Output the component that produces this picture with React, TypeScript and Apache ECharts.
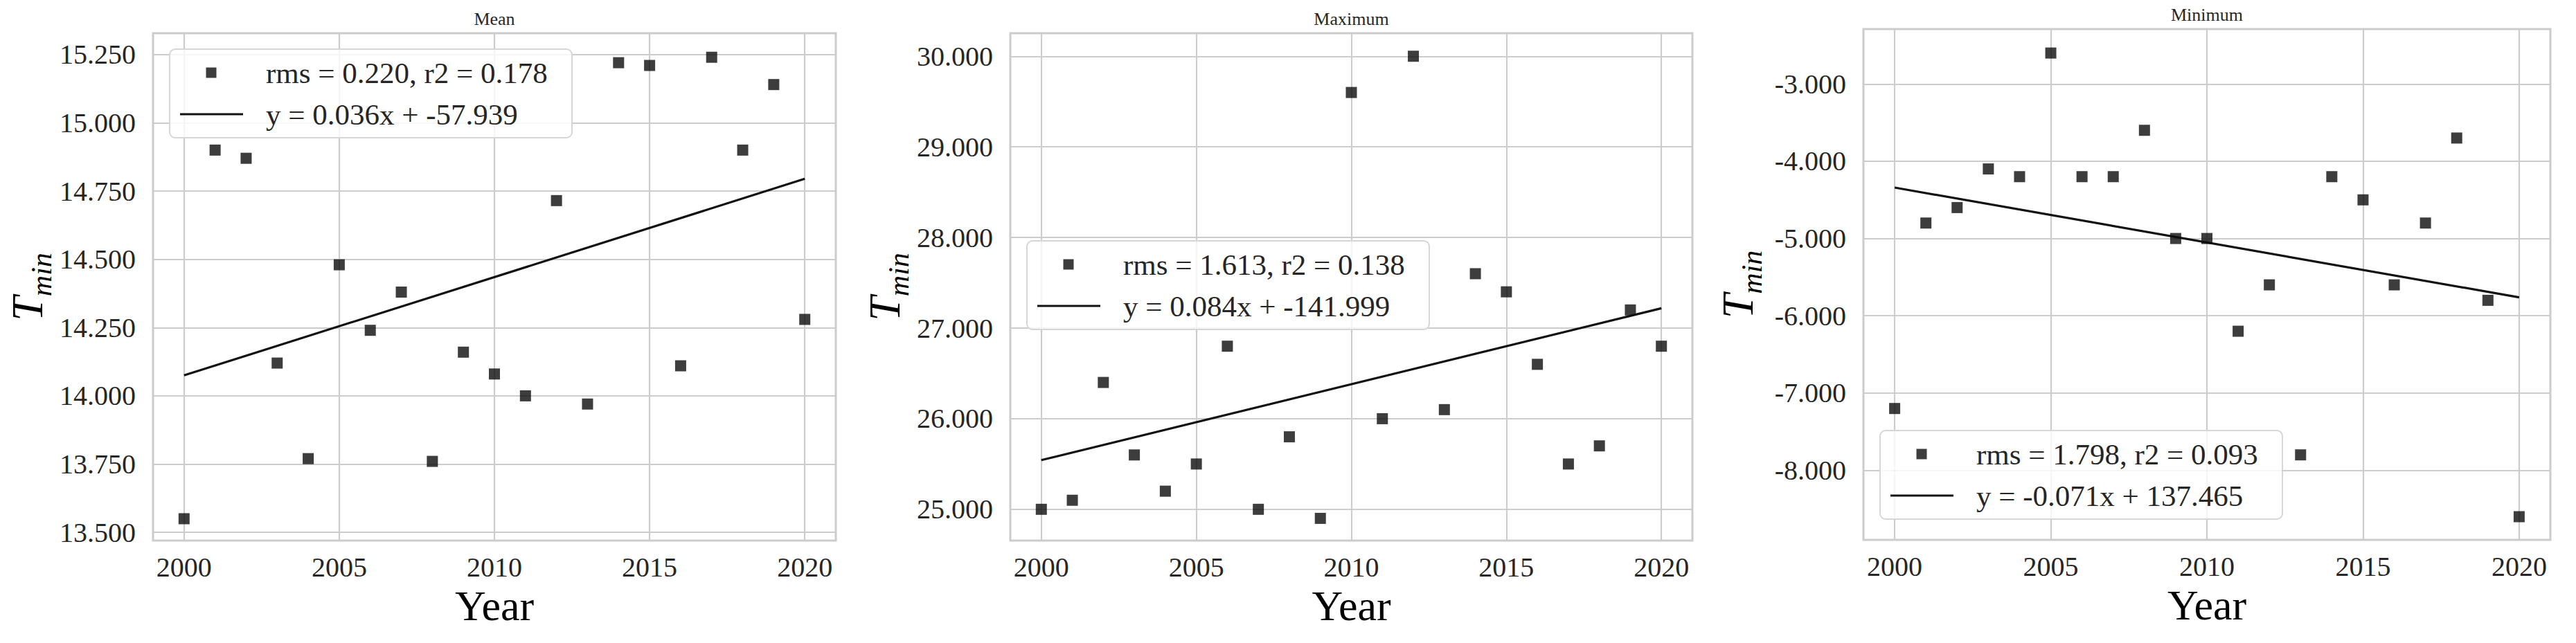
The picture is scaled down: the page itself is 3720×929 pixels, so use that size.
import React, { useEffect, useRef } from "react";
import * as echarts from "echarts";

// ---------- data ----------
const years = [2000, 2001, 2002, 2003, 2004, 2005, 2006, 2007, 2008, 2009, 2010, 2011, 2012, 2013, 2014, 2015, 2016, 2017, 2018, 2019, 2020];
const meanValues = [13.55, 14.9, 14.87, 14.12, 13.77, 14.48, 14.24, 14.38, 13.76, 14.16, 14.08, 14.0, 14.715, 13.97, 15.22, 15.21, 14.11, 15.24, 14.9, 15.14, 14.28];
const maxValues = [25.0, 25.1, 26.4, 25.6, 25.2, 25.5, 26.8, 25.0, 25.8, 24.9, 29.6, 26.0, 30.0, 26.1, 27.6, 27.4, 26.6, 25.5, 25.7, 27.2, 26.8];
const minValues = [-7.2, -4.8, -4.6, -4.1, -4.2, -2.6, -4.2, -4.2, -3.6, -5.0, -5.0, -6.2, -5.6, -7.8, -4.2, -4.5, -5.6, -4.8, -3.7, -5.8, -8.6];

const fitYears = [2000, 2020];
const meanFit = [14.075, 14.795];
const maxFit = [25.543, 27.219];
const minFit = [-4.341, -5.762];

const xTicks = [2000, 2005, 2010, 2015, 2020];
const meanTicks = [13.5, 13.75, 14.0, 14.25, 14.5, 14.75, 15.0, 15.25];
const maxTicks = [25, 26, 27, 28, 29, 30];
const minTicks = [-8, -7, -6, -5, -4, -3];

const titles = ["Mean", "Maximum", "Minimum"];
const statLabels = ["rms = 0.220, r2 = 0.178", "rms = 1.613, r2 = 0.138", "rms = 1.798, r2 = 0.093"];
const fitLabels = ["y = 0.036x + -57.939", "y = 0.084x + -141.999", "y = -0.071x + 137.465"];

// ---------- layout / style ----------
const FONT = "'Liberation Serif', 'Times New Roman', serif";
const TICK_COLOR = "#262626";
const GRID_COLOR = "#cccccc";
const MARK_COLOR = "#0d0d0d";

const panels = [
  { values: meanValues, fit: meanFit, ticks: meanTicks, yMin: 13.47, yMax: 15.328, grid: { left: 221, top: 48, width: 986, height: 733 }, legend: { left: 245, top: 71 } },
  { values: maxValues, fit: maxFit, ticks: maxTicks, yMin: 24.655, yMax: 30.254, grid: { left: 1459, top: 48, width: 985, height: 733 }, legend: { left: 1483, top: 348 } },
  { values: minValues, fit: minFit, ticks: minTicks, yMin: -8.9, yMax: -2.29, grid: { left: 2691, top: 42, width: 992, height: 738 }, legend: { left: 2715, top: 622 } },
];

const SQUARE_ICON = "path://M0,0L0,0M37.5,0L52.5,0L52.5,15L37.5,15ZM119,15L119,15";
const LINE_ICON = "path://M0,0L0,0M0,6L91,6L91,9L0,9ZM119,15L119,15";

export default function App() {
  const ref = useRef<HTMLDivElement>(null);

  useEffect(() => {
    if (!ref.current) return;
    const chart = echarts.init(ref.current, null, { renderer: "svg" });

    const grid: any[] = [];
    const xAxis: any[] = [];
    const yAxis: any[] = [];
    const series: any[] = [];
    const legend: any[] = [];
    const graphic: any[] = [];

    panels.forEach((p, i) => {
      grid.push({
        ...p.grid,
        show: true,
        borderColor: GRID_COLOR,
        borderWidth: 3,
        backgroundColor: "transparent",
        containLabel: false,
      });
      xAxis.push({
        type: "value",
        gridIndex: i,
        min: 1999,
        max: 2021,
        axisLine: { show: false },
        axisTick: { show: false, customValues: xTicks },
        axisLabel: {
          customValues: xTicks,
          formatter: (v: number) => String(v),
          fontFamily: FONT,
          fontSize: 40,
          color: TICK_COLOR,
          margin: 18,
        },
        splitLine: { show: true, lineStyle: { color: GRID_COLOR, width: 2.2 } },
        name: "Year",
        nameLocation: "middle",
        nameGap: 62,
        nameTextStyle: { fontFamily: FONT, fontSize: 62, color: "#000" },
      });
      yAxis.push({
        type: "value",
        gridIndex: i,
        min: p.yMin,
        max: p.yMax,
        axisLine: { show: false },
        axisTick: { show: false, customValues: p.ticks },
        axisLabel: {
          customValues: p.ticks,
          formatter: (v: number) => v.toFixed(3),
          fontFamily: FONT,
          fontSize: 40,
          color: TICK_COLOR,
          margin: 25,
        },
        splitLine: { show: true, lineStyle: { color: GRID_COLOR, width: 2.2 } },
        name: "{t|T}{s|min}",
        nameLocation: "middle",
        nameGap: 140,
        nameTextStyle: {
          rich: {
            t: { fontFamily: FONT, fontStyle: "italic", fontSize: 64, lineHeight: 58, color: "#000", verticalAlign: "bottom", padding: [0, 0, 10, 0] },
            s: { fontFamily: FONT, fontStyle: "italic", fontSize: 42, lineHeight: 40, color: "#000", verticalAlign: "bottom" },
          },
        },
      });
      series.push({
        type: "scatter",
        name: statLabels[i],
        xAxisIndex: i,
        yAxisIndex: i,
        symbol: "rect",
        symbolSize: 16,
        itemStyle: { color: MARK_COLOR },
        data: years.map((y, k) => [y, p.values[k]]),
        z: 3,
      });
      series.push({
        type: "line",
        name: fitLabels[i],
        xAxisIndex: i,
        yAxisIndex: i,
        symbol: "none",
        color: "#111111",
        lineStyle: { color: "#111111", width: 3.2 },
        data: fitYears.map((y, k) => [y, p.fit[k]]),
        z: 2,
      });
      legend.push({
        left: p.legend.left,
        top: p.legend.top,
        orient: "vertical",
        itemWidth: 119,
        itemHeight: 15,
        itemGap: 16,
        padding: [12, 17, 12, 15],
        backgroundColor: "rgba(255,255,255,0.8)",
        borderColor: "#d6d6d6",
        borderWidth: 2,
        borderRadius: 8,
        selectedMode: false,
        textStyle: { fontFamily: FONT, fontSize: 43, color: TICK_COLOR, lineHeight: 44, width: 425 },
        data: [
          { name: statLabels[i], icon: SQUARE_ICON },
          { name: fitLabels[i], icon: LINE_ICON },
        ],
        z: 10,
      });
      graphic.push({
        type: "text",
        x: p.grid.left + p.grid.width / 2,
        y: p.grid.top - 21,
        style: {
          text: titles[i],
          fontFamily: FONT,
          fontSize: 26,
          fill: TICK_COLOR,
          align: "center",
          verticalAlign: "middle",
        },
      });
    });

    chart.setOption({
      animation: false,
      backgroundColor: "#ffffff",
      grid,
      xAxis,
      yAxis,
      series,
      legend,
      graphic,
    });

    return () => chart.dispose();
  }, []);

  return (
    <div
      ref={ref}
      style={{ position: "fixed", left: 0, top: 0, width: 3720, height: 929, background: "#fff" }}
    />
  );
}
